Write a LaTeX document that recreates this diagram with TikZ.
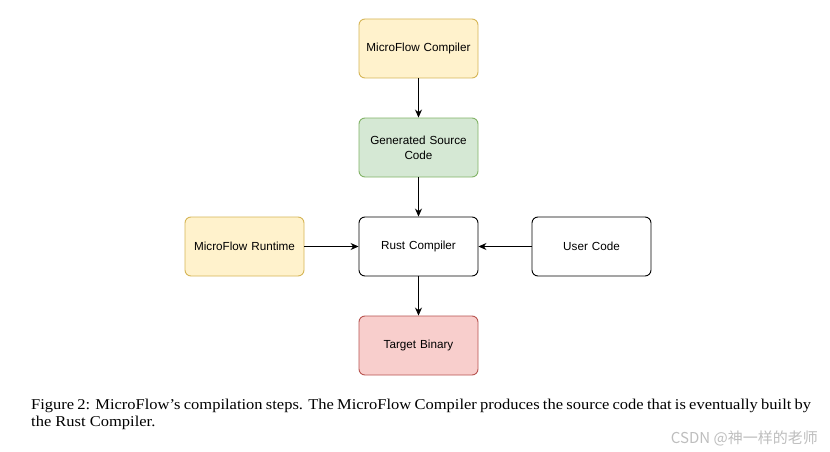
\documentclass[tikz,border=0pt]{standalone}
\usepackage{fontspec}
\usepackage{graphicx}
\setmainfont{Liberation Serif}
\newfontfamily\boxfont{Liberation Sans}
\newfontfamily\cjkfont{Noto Sans CJK SC}
\usetikzlibrary{arrows.meta}
\definecolor{yfill}{HTML}{FFF2CC}
\definecolor{ydraw}{HTML}{D6B656}
\definecolor{gfill}{HTML}{D5E8D4}
\definecolor{gdraw}{HTML}{82B366}
\definecolor{rfill}{HTML}{F8CECC}
\definecolor{rdraw}{HTML}{B85450}
\definecolor{wmark}{HTML}{BEBEBE}
\begin{document}
\begin{tikzpicture}[x=1pt,y=-1pt,
  box/.style={draw, rounded corners=6pt, line width=0.9pt, minimum width=119pt, minimum height=59pt, inner sep=0pt, align=center, font=\boxfont\fontsize{11.7}{15}\selectfont, text width=110pt},
  ybox/.style={box, fill=yfill, draw=ydraw},
  gbox/.style={box, fill=gfill, draw=gdraw},
  rbox/.style={box, fill=rfill, draw=rdraw},
  wbox/.style={box, fill=white, draw=black},
  conn/.style={line width=0.9pt, -{Stealth[length=8pt,width=7pt]}},
  captext/.style={anchor=base west, inner sep=0pt, font=\fontsize{15}{17}\selectfont}
]
\useasboundingbox (0,0) rectangle (830,452);
\fill[white] (0,0) rectangle (830,452);
\node[ybox] (mfc) at (418.5,48.5) {MicroFlow Compiler};
\node[gbox] (gsc) at (418.5,147.5) {Generated Source\\Code};
\node[wbox] (rc) at (418.5,246.5) {Rust Compiler};
\node[ybox] (mfr) at (244.5,246.5) {MicroFlow Runtime};
\node[wbox] (uc) at (591.5,246.5) {User Code};
\node[rbox] (tb) at (418.5,345.5) {Target Binary};
\draw[conn] (mfc) -- (gsc);
\draw[conn] (gsc) -- (rc);
\draw[conn] (mfr) -- (rc);
\draw[conn] (uc) -- (rc);
\draw[conn] (rc) -- (tb);
\node[captext] (cap1) at (31,409) {\scalebox{1.1}[1]{\makebox[709pt][s]{Figure 2: MicroFlow’s compilation steps. The MicroFlow Compiler produces the source code that is eventually built by}}};
\node[captext] (cap2) at (31,426) {\scalebox{1.1}[1]{the Rust Compiler.}};
\node[anchor=base east, inner sep=0pt, text=wmark, font=\cjkfont\fontsize{15}{16}\selectfont] (wm) at (818,443) {CSDN @神一样的老师};
\end{tikzpicture}
\end{document}
